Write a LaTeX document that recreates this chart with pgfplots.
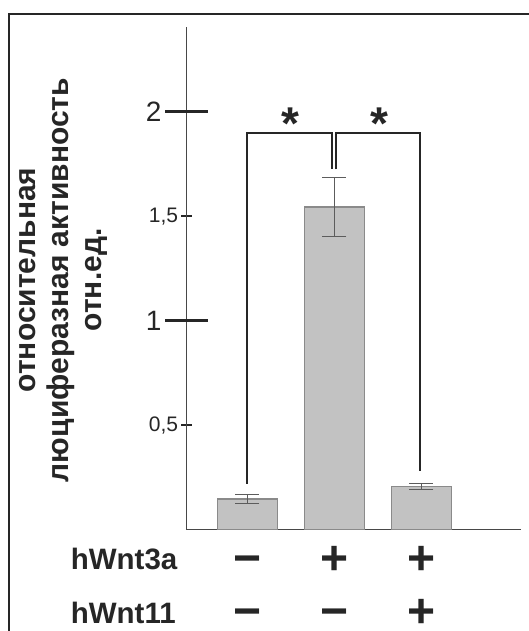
\documentclass[border=0pt]{standalone}
\usepackage{fontspec}
\setmainfont{Liberation Sans}
\usepackage{pgfplots}
\pgfplotsset{compat=1.18}
\definecolor{barfill}{HTML}{C2C2C2}
\definecolor{baredge}{HTML}{8A8A8A}
\definecolor{ink}{HTML}{262626}
\newcommand{\bigtick}[1]{\mbox{\fontsize{28}{28}\selectfont #1\hspace{16.7pt}}}
\newcommand{\smalltick}[1]{\mbox{\fontsize{21}{21}\selectfont #1}}
\begin{document}
\begin{tikzpicture}
\path[use as bounding box] (-186.6pt,-101.5pt) rectangle (342.4pt,529.5pt);
\draw[ink, line width=2pt] (-177.1pt,-110pt) -- (-177.1pt,515.5pt) -- (350pt,515.5pt);
\begin{axis}[
  scale only axis, width=334.7pt, height=502.1pt,
  xmin=-0.70, xmax=3.15, ymin=0, ymax=2.404,
  axis x line=bottom, axis y line=left,
  axis line style={-, draw=ink!85, line width=1.5pt},
  xtick=\empty,
  ytick={0.5,1,1.5,2},
  yticklabels={\smalltick{0,5},\bigtick{1},\smalltick{1,5},\bigtick{2}},
  tick align=center,
  major tick length=11pt,
  ytick style={line width=2pt, draw=ink},
  yticklabel style={inner sep=0pt, xshift=-2.8pt, text=ink},
  extra y ticks={1,2},
  extra y tick labels={},
  extra y tick style={major tick length=43pt, ytick style={line width=3.2pt}},
  clip=false,
]
\addplot[ybar, bar width=60pt, fill=barfill, draw=baredge, line width=1.5pt,
  error bars/.cd, y dir=both, y explicit,
  error bar style={line width=1.2pt, draw=ink!75},
  error mark options={rotate=90, mark size=12pt, line width=1.2pt, draw=ink!75}]
  coordinates {(0,0.147) +- (0,0.021) (1,1.545) +- (0,0.141) (2,0.206) +- (0,0.016)};
% significance brackets
\addplot[ink, line width=2pt, mark=none] coordinates {(0,0.218) (0,1.90) (0.969,1.90) (0.969,1.724)};
\addplot[ink, line width=2pt, mark=none] coordinates {(1.015,1.724) (1.015,1.90) (1.99,1.90) (1.99,0.281)};
\node[anchor=base, font=\fontsize{46}{46}\selectfont\bfseries, text=ink] at (axis cs:0.497,1.866) {*};
\node[anchor=base, font=\fontsize{46}{46}\selectfont\bfseries, text=ink] at (axis cs:1.517,1.866) {*};
% sign rows
\node[inner sep=0pt, font=\fontsize{48}{48}\selectfont\bfseries, text=ink] at (axis cs:0,-0.150) {\vphantom{+}−};
\node[inner sep=0pt, font=\fontsize{48}{48}\selectfont\bfseries, text=ink] at (axis cs:1,-0.150) {+};
\node[inner sep=0pt, font=\fontsize{48}{48}\selectfont\bfseries, text=ink] at (axis cs:2,-0.150) {+};
\node[inner sep=0pt, font=\fontsize{48}{48}\selectfont\bfseries, text=ink] at (axis cs:0,-0.400) {\vphantom{+}−};
\node[inner sep=0pt, font=\fontsize{48}{48}\selectfont\bfseries, text=ink] at (axis cs:1,-0.400) {\vphantom{+}−};
\node[inner sep=0pt, font=\fontsize{48}{48}\selectfont\bfseries, text=ink] at (axis cs:2,-0.400) {+};
\end{axis}
\node[anchor=base west, inner sep=0pt, font=\fontsize{29.5}{29.5}\selectfont\bfseries, text=ink] at (-116pt,-40.5pt) {hWnt3a};
\node[anchor=base west, inner sep=0pt, font=\fontsize{29.5}{29.5}\selectfont\bfseries, text=ink] at (-116pt,-93.8pt) {hWnt11};
\node[rotate=90, align=center, font=\fontsize{30}{33}\selectfont\bfseries, text=ink] at (-123.6pt,249.5pt)
  {относительная\\люциферазная активность\\отн.ед.};
\end{tikzpicture}
\end{document}
